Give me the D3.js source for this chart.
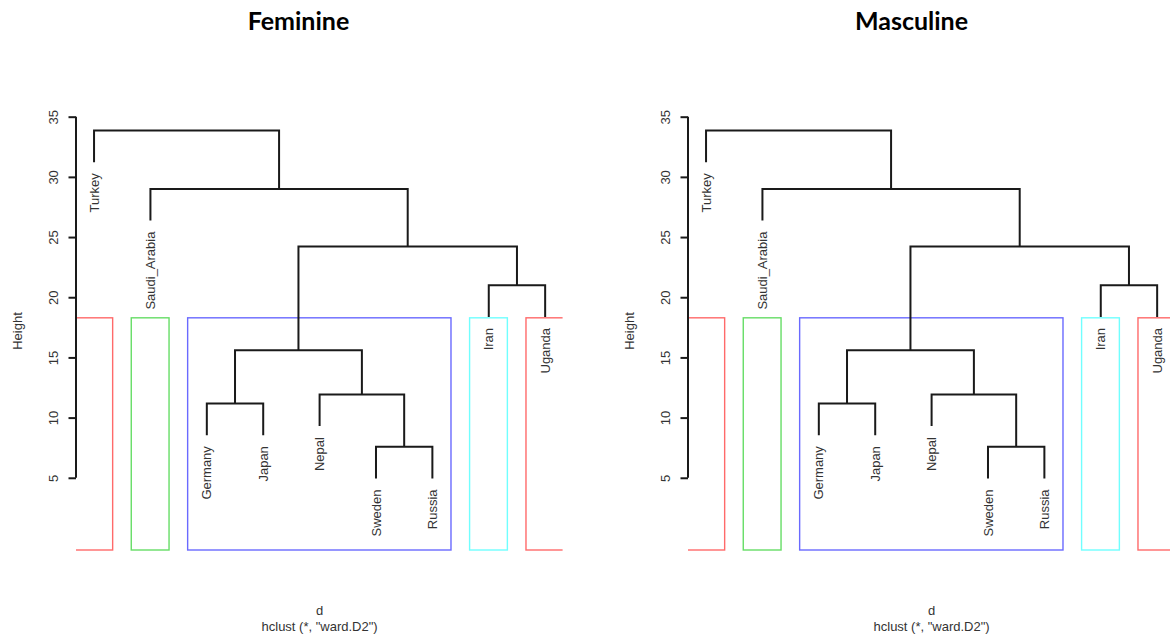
<!DOCTYPE html>
<html>
<head>
<meta charset="utf-8">
<script src="https://cdn.jsdelivr.net/npm/d3@7"></script>
<style>
  html, body { margin: 0; padding: 0; background: #fff; }
  svg { display: block; }
</style>
</head>
<body>
<svg id="chart" width="1170" height="635"></svg>
<script>
// ---------- data ----------
const panelTitles = ["Feminine", "Masculine"];
// leaves in displayed order
const leafLabels = ["Turkey", "Saudi_Arabia", "Germany", "Japan", "Nepal", "Sweden", "Russia", "Iran", "Uganda"];
// merge matrix (R hclust style: negative = leaf index (1-based), positive = earlier merge)
const mergeLeft  = [-6, -3, -5, 2, -8, 4, -2, -1];
const mergeRight = [-7, -4,  1, 3, -9, 5,  6,  7];
const feminineHeights  = [7.57, 11.17, 11.92, 15.59, 20.99, 24.22, 29.0, 33.85];
const masculineHeights = [7.57, 11.17, 11.92, 15.59, 20.99, 24.22, 29.0, 33.85];
// rect.hclust(k = 5)
const clusterSizes  = [1, 1, 5, 1, 1];
const clusterColors = ["#ff6a6a", "#66dd66", "#6a6aff", "#70ffff", "#ff6a6a"];
const yTicks = [5, 10, 15, 20, 25, 30, 35];
const xLabel = "d";
const subLabel = "hclust (*, \"ward.D2\")";
const yLabel = "Height";

// ---------- layout ----------
const svg = d3.select("#chart");
const panels = [
  { title: panelTitles[0], heights: feminineHeights, x0: 76, x1: 563.2, titleX: 298.5 },
  { title: panelTitles[1], heights: masculineHeights, x0: 688, x1: 1175.2, titleX: 911.5 }
];
const plotTop = 112, plotBottom = 550;
const hang = 0.1;

panels.forEach((p, pi) => {
  const g = svg.append("g");
  const n = leafLabels.length;
  const x = d3.scaleLinear().domain([0.68, n + 0.32]).range([p.x0, p.x1]);
  const y = d3.scaleLinear().domain([-1.0, 35.39]).range([plotBottom, plotTop]);

  const hmax = d3.max(p.heights), hmin = d3.min(p.heights);
  const hangAmt = hang * (hmax - hmin);

  // build tree
  const nodes = [];
  const mk = (code) => code < 0 ? { name: leafLabels[-code - 1], leafIndex: -code } : nodes[code - 1];
  mergeLeft.forEach((a, i) => {
    nodes.push({ height: p.heights[i], children: [mk(a), mk(mergeRight[i])] });
  });
  const root = d3.hierarchy(nodes[nodes.length - 1]);
  root.eachAfter(d => {
    if (!d.children) {
      d.px = x(d.data.leafIndex);
      d.h = d.parent.data.height - hangAmt;
    } else {
      d.px = d3.mean(d.children, c => c.px);
      d.h = d.data.height;
    }
  });

  // clip for rects
  const clipId = "clip" + pi;
  svg.append("clipPath").attr("id", clipId)
    .append("rect").attr("x", p.x0).attr("y", plotTop)
    .attr("width", p.x1 - p.x0 - 0.6).attr("height", plotBottom - plotTop + 1.5);

  // cluster rectangles
  const sortedDesc = p.heights.slice().sort((a, b) => b - a);
  const k = clusterSizes.length;
  const rectTop = (sortedDesc[k - 2] + sortedDesc[k - 1]) / 2;
  const cum = [0].concat(Array.from(d3.cumsum(clusterSizes)));
  const rg = g.append("g").attr("clip-path", `url(#${clipId})`);
  clusterSizes.forEach((s, i) => {
    const xa = x(cum[i] + 0.66), xb = x(cum[i + 1] + 0.33);
    rg.append("rect")
      .attr("x", xa).attr("y", y(rectTop))
      .attr("width", xb - xa).attr("height", plotBottom - y(rectTop))
      .attr("fill", "none").attr("stroke", clusterColors[i]).attr("stroke-width", 1.4);
  });

  // dendrogram segments
  root.descendants().filter(d => d.children).forEach(d => {
    const [a, b] = d.children;
    g.append("path")
      .attr("d", `M${a.px},${y(a.h)}V${y(d.h)}H${b.px}V${y(b.h)}`)
      .attr("fill", "none").attr("stroke", "#1a1a1a").attr("stroke-width", 2);
  });

  // leaf labels
  root.leaves().forEach(d => {
    g.append("text")
      .attr("transform", `translate(${d.px},${y(d.h) + 11}) rotate(-90)`)
      .attr("dy", "0.35em")
      .attr("text-anchor", "end")
      .attr("font-family", "Liberation Sans, Arial, sans-serif")
      .attr("font-size", 13)
      .attr("fill", "#333")
      .text(d.data.name);
  });

  // y axis
  const axis = d3.axisLeft(y).tickValues(yTicks).tickSize(7.5).tickSizeOuter(0).tickFormat(d3.format("d"));
  const ag = g.append("g").attr("transform", `translate(${p.x0},0)`).call(axis);
  ag.select(".domain").attr("d", `M0,${y(yTicks[0])}V${y(yTicks[yTicks.length - 1])}`)
    .attr("stroke", "#1a1a1a").attr("stroke-width", 2);
  ag.selectAll(".tick line").attr("stroke", "#1a1a1a").attr("stroke-width", 2);
  ag.selectAll(".tick text")
    .attr("x", null).attr("dy", null)
    .attr("transform", "translate(-18.5,0) rotate(-90)")
    .attr("text-anchor", "middle")
    .attr("font-family", "Liberation Sans, Arial, sans-serif")
    .attr("font-size", 13)
    .attr("fill", "#333");

  // y label
  g.append("text")
    .attr("transform", `translate(${p.x0 - 58.5},${(plotTop + plotBottom) / 2}) rotate(-90)`)
    .attr("dy", "0.35em")
    .attr("text-anchor", "middle")
    .attr("font-family", "Liberation Sans, Arial, sans-serif")
    .attr("font-size", 13).attr("fill", "#333")
    .text(yLabel);

  // x labels
  const cx = (p.x0 + p.x1) / 2;
  g.append("text").attr("x", cx).attr("y", 615).attr("text-anchor", "middle")
    .attr("font-family", "Liberation Sans, Arial, sans-serif").attr("font-size", 13).attr("fill", "#333")
    .text(xLabel);
  g.append("text").attr("x", cx).attr("y", 630.5).attr("text-anchor", "middle")
    .attr("font-family", "Liberation Sans, Arial, sans-serif").attr("font-size", 13).attr("fill", "#333")
    .text(subLabel);

  // title
  g.append("text").attr("x", p.titleX).attr("y", 30).attr("text-anchor", "middle")
    .attr("font-family", "Lato, 'Open Sans', sans-serif").attr("font-weight", "bold")
    .attr("font-size", 25).attr("fill", "#000")
    .text(p.title);
});
</script>
</body>
</html>
